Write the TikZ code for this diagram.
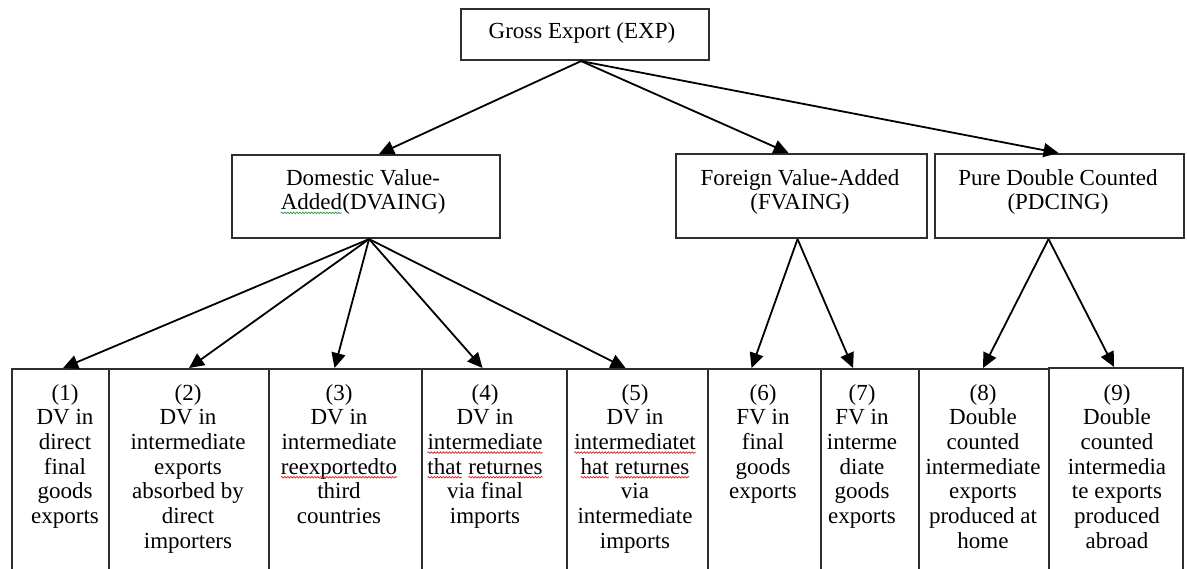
\documentclass[tikz,border=0pt]{standalone}
\usepackage{fontspec}
\setmainfont{Liberation Serif}
\usetikzlibrary{arrows.meta,decorations.pathmorphing}
\definecolor{boxgray}{HTML}{2E2E2E}
\definecolor{sqred}{HTML}{E02020}
\definecolor{sqgreen}{HTML}{20A040}
\newcommand\sqw[2]{\tikz[baseline=(w.base),x=1pt,y=1pt]{\node[inner sep=0pt,outer sep=0pt,anchor=base,draw=none] (w) {#2};\draw[draw=#1,line width=0.7pt,decorate,decoration={snake,amplitude=0.8pt,segment length=3pt}] ([yshift=-3pt]w.base west) -- ([yshift=-3pt]w.base east);}}
\begin{document}
\begin{tikzpicture}[x=1pt,y=-1pt,
  box/.style={draw=boxgray, line width=2.1pt, inner sep=0pt, anchor=north west},
  txt/.style={align=center, inner sep=0pt, anchor=north, font=\fontsize{23}{24.7}\selectfont},
  arr/.style={line width=1.8pt, -{Triangle[length=15pt,width=14pt]}}]
\useasboundingbox (0,0) rectangle (1187,569);
\clip (0,0) rectangle (1187,569);
\fill[white] (0,0) rectangle (1187,569);

% upper boxes
\node[box, minimum width=248pt, minimum height=51pt] (exp) at (460,8) {};
\node[box, minimum width=268pt, minimum height=83pt] (dva) at (231,154) {};
\node[box, minimum width=251pt, minimum height=84pt] (fva) at (675,153) {};
\node[box, minimum width=249pt, minimum height=84pt] (pdc) at (934,153) {};

\node[txt] (texp) at (582,22) {Gross Export (EXP)};
\node[txt] (tdva) at (363,169) {Domestic Value-\\\sqw{sqgreen}{Added}(DVAING)};
\node[txt] (tfva) at (800,169) {Foreign Value-Added\\(FVAING)};
\node[txt] (tpdc) at (1058,169) {Pure Double Counted\\(PDCING)};

% bottom boxes
\node[box, minimum width=97pt,  minimum height=240pt] (b1) at (11,368) {};
\node[box, minimum width=160pt, minimum height=240pt] (b2) at (108,368) {};
\node[box, minimum width=153pt, minimum height=240pt] (b3) at (268,368) {};
\node[box, minimum width=145pt, minimum height=240pt] (b4) at (421,368) {};
\node[box, minimum width=141pt, minimum height=240pt] (b5) at (566,368) {};
\node[box, minimum width=113pt, minimum height=240pt] (b6) at (707,368) {};
\node[box, minimum width=98pt,  minimum height=240pt] (b7) at (820,368) {};
\node[box, minimum width=130pt, minimum height=240pt] (b8) at (918,368) {};
\node[box, minimum width=134pt, minimum height=240pt] (b9) at (1048,367) {};

\node[txt] (t1) at (65,384) {(1)\\DV in\\direct\\final\\goods\\exports};
\node[txt] (t2) at (188,384) {(2)\\DV in\\intermediate\\exports\\absorbed by\\direct\\importers};
\node[txt] (t3) at (339,384) {(3)\\DV in\\intermediate\\\sqw{sqred}{reexportedto}\\third\\countries};
\node[txt] (t4) at (485,384) {(4)\\DV in\\\sqw{sqred}{intermediate}\\\sqw{sqred}{that} \sqw{sqred}{returnes}\\via final\\imports};
\node[txt] (t5) at (635,384) {(5)\\DV in\\\sqw{sqred}{intermediatet}\\\sqw{sqred}{hat} \sqw{sqred}{returnes}\\via\\intermediate\\imports};
\node[txt] (t6) at (763,384) {(6)\\FV in\\final\\goods\\exports};
\node[txt] (t7) at (862,384) {(7)\\FV in\\interme\\diate\\goods\\exports};
\node[txt] (t8) at (983,384) {(8)\\Double\\counted\\intermediate\\exports\\produced at\\home};
\node[txt] (t9) at (1117,384) {(9)\\Double\\counted\\intermedia\\te exports\\produced\\abroad};

% connectors
\draw[arr] ([xshift=-4pt]exp.south) -- ([xshift=13pt]dva.north);
\draw[arr] ([xshift=-4pt]exp.south) -- ([xshift=-13pt]fva.north);
\draw[arr] ([xshift=-4pt]exp.south) -- ([xshift=-1pt]pdc.north);

\draw[arr] ([xshift=3pt]dva.south) -- ([xshift=2.5pt]b1.north);
\draw[arr] ([xshift=3pt]dva.south) -- (b2.north);
\draw[arr] ([xshift=3pt]dva.south) -- ([xshift=-11pt]b3.north);
\draw[arr] ([xshift=3pt]dva.south) -- ([xshift=-12pt]b4.north);
\draw[arr] ([xshift=3pt]dva.south) -- ([xshift=-12pt]b5.north);

\draw[arr] ([xshift=-4pt]fva.south) -- ([xshift=-13pt]b6.north);
\draw[arr] ([xshift=-4pt]fva.south) -- ([xshift=-17pt]b7.north);

\draw[arr] ([xshift=-11pt]pdc.south) -- ([xshift=-1pt]b8.north);
\draw[arr] ([xshift=-11pt]pdc.south) -- ([xshift=-2pt]b9.north);
\end{tikzpicture}
\end{document}
